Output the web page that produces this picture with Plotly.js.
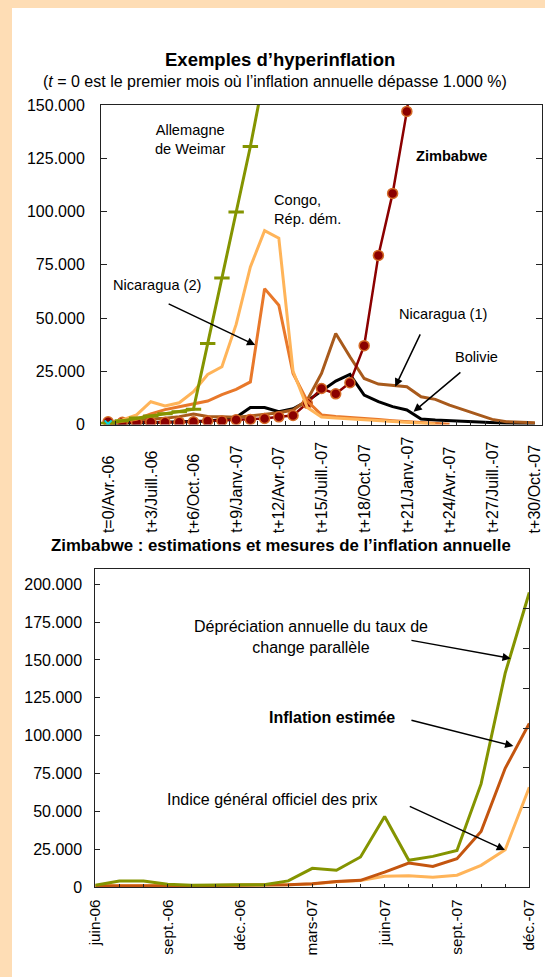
<!DOCTYPE html>
<html>
<head>
<meta charset="utf-8">
<script src="https://cdn.plot.ly/plotly-3.0.1.min.js"></script>
<style>
html,body{margin:0;padding:0;background:#FEDDB5;}
#chart{width:545px;height:977px;}
</style>
</head>
<body>
<div id="chart"></div>
<script>
// ---------- Top chart data (t = months since annual inflation first > 1.000 %) ----------
const tWeimar   = [0,1,2,3,4,5,6,7,8,9,10,11];
const weimar    = [600,1800,3000,4000,5000,6000,7200,38000,68800,99800,130500,165000];

const tCongo    = [0,1,2,3,4,5,6,7,8,9,10,11,12,13,14,15,16,17,18,19,20,21,22,23];
const congo     = [300,2100,4500,10700,8700,10200,15400,23500,27100,47000,74000,91000,87500,25000,8000,3500,3000,2600,2200,1800,1400,1000,500,200];

const tNic2     = [0,1,2,3,4,5,6,7,8,9,10,11,12,13,14,15,16,17,18,19,20,21,22,23,24];
const nicaragua2= [500,1300,2400,5000,7000,8300,9500,11000,14000,16500,20000,63800,56000,24000,11000,4500,3800,3200,2700,2300,1800,1300,800,400,100];

const tNic1     = [0,1,2,3,4,5,6,7,8,9,10,11,12,13,14,15,16,17,18,19,20,21,22,23,24,25,26,27,28,29,30];
const nicaragua1= [500,1300,2000,2600,2900,3700,4900,3800,3600,3400,4000,4800,5500,6800,11500,24000,42700,31800,21600,19000,18200,17700,13000,11800,9100,6800,4400,2400,1300,900,800];

const tBol      = [0,1,2,3,4,5,6,7,8,9,10,11,12,13,14,15,16,17,18,19,20,21,22,23,24,25,26,27,28,29,30];
const bolivia   = [300,500,700,900,1000,1200,1400,1700,2200,3400,8000,8000,6000,7400,11000,15800,20400,23500,13800,10700,8400,6800,2600,2100,1800,1300,1100,900,600,500,400];

const tZim      = [0,1,2,3,4,5,6,7,8,9,10,11,12,13,14,15,16,17,18,19,20,21,22];
const zimbabwe  = [1300,1000,1100,1000,1050,1100,1250,1600,1700,2200,2400,2800,3600,4200,10000,16900,14400,19600,37000,79400,108500,147000,200000];

const tCyan     = [0];
const cyanMark  = [300];

const topTickVals   = [0,3,6,9,12,15,18,21,24,27,30];
const topTickLabels = ['t=0/Avr.-06','t+3/Juill.-06','t+6/Oct.-06','t+9/Janv.-07','t+12/Avr.-07',
                       't+15/Juill.-07','t+18/Oct.-07','t+21/Janv.-07','t+24/Avr.-07','t+27/Juill.-07','t+30/Oct.-07'];

// ---------- Bottom chart data (Zimbabwe, monthly) ----------
const months = ['juin-06','juil.-06','août-06','sept.-06','oct.-06','nov.-06','déc.-06','janv.-07','févr.-07',
                'mars-07','avr.-07','mai-07','juin-07','juil.-07','août-07','sept.-07','oct.-07','nov.-07','déc.-07'];
const parallelDep = [1300,4200,4200,2000,1300,1750,1750,1750,4200,12500,11200,20000,46700,17800,20400,24300,68200,141300,194500];
const estimated   = [900,800,900,1000,1100,1200,1400,1500,1750,2400,3900,4600,10000,16000,13800,18900,36800,78500,108100];
const officialCPI = [1184,994,1204,1023,1070,1098,1281,1594,1730,2200,3714,4530,7251,7634,6593,7982,14500,24800,66000];

// ---------- styling ----------
const FONT = "Arial, 'Liberation Sans', sans-serif";
const AX = '#222222';
const C = {
  weimar:'#849400', congo:'#FFB459', nic2:'#E8782A', nic1:'#A85A1C', bol:'#000000',
  zim:'#8B0000', zimEdge:'#D46A26', est:'#C4550F'
};

const traces = [
  {x:tBol, y:bolivia, xaxis:'x', yaxis:'y', mode:'lines', line:{color:C.bol, width:3}},
  {x:tNic1, y:nicaragua1, xaxis:'x', yaxis:'y', mode:'lines', line:{color:C.nic1, width:3}},
  {x:tZim, y:zimbabwe, xaxis:'x', yaxis:'y', mode:'lines+markers', line:{color:C.zim, width:2.5},
   marker:{symbol:'circle', size:10, color:C.zim, line:{color:C.zimEdge, width:1.5}}},
  {x:tNic2, y:nicaragua2, xaxis:'x', yaxis:'y', mode:'lines', line:{color:C.nic2, width:3}},
  {x:tCongo, y:congo, xaxis:'x', yaxis:'y', mode:'lines', line:{color:C.congo, width:3}},
  {x:tWeimar, y:weimar, xaxis:'x', yaxis:'y', mode:'lines+markers', line:{color:C.weimar, width:3},
   marker:{symbol:'line-ew', size:11, color:C.weimar, line:{color:C.weimar, width:3}}},
  {x:tCyan, y:cyanMark, xaxis:'x', yaxis:'y', mode:'markers',
   marker:{symbol:'x-thin', size:7, color:'#00D8E8', line:{color:'#00D8E8', width:2}}},

  {x:months, y:officialCPI, xaxis:'x2', yaxis:'y2', mode:'lines', line:{color:C.congo, width:3}},
  {x:months, y:estimated, xaxis:'x2', yaxis:'y2', mode:'lines', line:{color:C.est, width:3}},
  {x:months, y:parallelDep, xaxis:'x2', yaxis:'y2', mode:'lines', line:{color:C.weimar, width:3}}
];

const py = p => 1 - p/977;
const ann = [];
// titles
ann.push({xref:'paper', yref:'paper', x:279.8/545, y:py(59), text:'<b>Exemples d’hyperinflation</b>',
          showarrow:false, xanchor:'center', yanchor:'middle', font:{size:18.5}});
ann.push({xref:'paper', yref:'paper', x:274.6/545, y:py(81.5),
          text:'(<i>t</i> = 0 est le premier mois où l’inflation annuelle dépasse 1.000 %)',
          showarrow:false, xanchor:'center', yanchor:'middle', font:{size:16}});
ann.push({xref:'paper', yref:'paper', x:280.5/545, y:py(545.6),
          text:'<b>Zimbabwe : estimations et mesures de l’inflation annuelle</b>',
          showarrow:false, xanchor:'center', yanchor:'middle', font:{size:16.8}});

// top chart x tick labels (bottom-aligned, rotated)
topTickVals.forEach((v,k)=>{
  ann.push({xref:'x', yref:'paper', x:v, y:py(534), text:topTickLabels[k], textangle:-90,
            showarrow:false, xanchor:'center', yanchor:'bottom', font:{size:16}, borderpad:0});
});

// top chart labels
const lab = (x,y,text,opt={}) => Object.assign({xref:'x', yref:'y', x:x, y:y, text:text, showarrow:false,
             xanchor:'center', yanchor:'middle', font:{size:14.6}}, opt);
ann.push(lab(5.77,133900,'Allemagne<br>de Weimar'));
ann.push(lab(11.51,101000,'Congo,<br>Rép. dém.',{xanchor:'left', align:'left'}));
ann.push(lab(24.12,125860,'<b>Zimbabwe</b>'));
ann.push(lab(3.42,65700,'Nicaragua (2)'));
ann.push(lab(23.52,51800,'Nicaragua (1)'));
ann.push(lab(25.87,31800,'Bolivie'));

const arrow = (xr,yr,x0,y0,x1,y1) => ({xref:xr, yref:yr, axref:xr, ayref:yr, ax:x0, ay:y0, x:x1, y:y1,
             text:'', showarrow:true, arrowhead:2, arrowsize:1.1, arrowwidth:1.5, arrowcolor:'#000', standoff:0});
ann.push(arrow('x','y',4.15,56950,10.34,37270));
ann.push(arrow('x','y',21.99,43030,20.18,17720));
ann.push(arrow('x','y',24.87,25080,21.47,6000));

// bottom chart labels
const lab2 = (x,y,text) => ({xref:'x2', yref:'y2', x:x, y:y, text:text, showarrow:false,
             xanchor:'center', yanchor:'middle', font:{size:16}});
ann.push(lab2(8.95,165400,'Dépréciation annuelle du taux de<br>change parallèle'));
ann.push(lab2(9.80,112300,'<b>Inflation estimée</b>'));
ann.push(lab2(7.34,57600,'Indice général officiel des prix'));
ann.push(arrow('x2','y2',13.05,163100,17.23,151000));
ann.push(arrow('x2','y2',13.05,110400,17.34,93200));
ann.push(arrow('x2','y2',12.98,53800,16.99,24600));

const layout = {
  width:545, height:977,
  margin:{l:0,r:0,t:0,b:0},
  paper_bgcolor:'#FEDDB5',
  plot_bgcolor:'#FFFFFF',
  separators:',.',
  showlegend:false,
  hovermode:false,
  font:{family:FONT, size:16, color:'#000000'},
  shapes:[{type:'rect', xref:'paper', yref:'paper', x0:12/545, x1:1, y0:0, y1:py(8),
           fillcolor:'#FFFFFF', line:{width:0}, layer:'below'}],
  xaxis:{domain:[101/545,542/545], anchor:'y', range:[-0.5,30.5], tickmode:'linear', tick0:-0.5, dtick:1,
         ticks:'inside', ticklen:4, tickcolor:AX, showticklabels:false,
         showline:true, linecolor:AX, linewidth:1, mirror:true, showgrid:false, zeroline:false},
  yaxis:{domain:[py(424.5),py(105)], anchor:'x', range:[0,150000], tickmode:'linear', tick0:0, dtick:25000,
         tickformat:',d', ticks:'inside', ticklen:6, tickcolor:AX, ticklabelstandoff:12,
         showline:true, linecolor:AX, linewidth:1, mirror:'ticks', showgrid:false, zeroline:false,
         tickfont:{size:16}},
  xaxis2:{domain:[95.3/545,529.3/545], anchor:'y2', type:'category', range:[0,18],
          tickmode:'array', tickvals:months, ticktext:months.map((m,i)=> i%3===0 ? m : ''),
          tickangle:-90, ticks:'inside', ticklen:3, tickcolor:AX, ticklabelstandoff:5,
          showline:true, linecolor:AX, linewidth:1, mirror:true, showgrid:false, zeroline:false,
          tickfont:{size:15.3}},
  yaxis2:{domain:[py(887.3),py(569)], anchor:'x2', range:[0,210000], tickmode:'linear', tick0:0, dtick:25000,
          tickformat:',d', ticks:'inside', ticklen:5, tickcolor:AX, ticklabelstandoff:9,
          showline:true, linecolor:AX, linewidth:1, mirror:true, showgrid:false, zeroline:false,
          tickfont:{size:16}},
  yaxis3:{overlaying:'y2', anchor:'x2', side:'right', range:[0,8], tickmode:'linear', tick0:0, dtick:1,
          ticks:'inside', ticklen:6, tickcolor:AX, showticklabels:false, showline:false,
          showgrid:false, zeroline:false},
  annotations:ann
};

// invisible anchor trace so the right-hand tick axis of the lower chart is drawn
traces.push({x:[months[0]], y:[0], xaxis:'x2', yaxis:'y3', mode:'markers', marker:{opacity:0}, hoverinfo:'skip'});

Plotly.newPlot('chart', traces, layout, {displayModeBar:false, staticPlot:true});
</script>
</body>
</html>
